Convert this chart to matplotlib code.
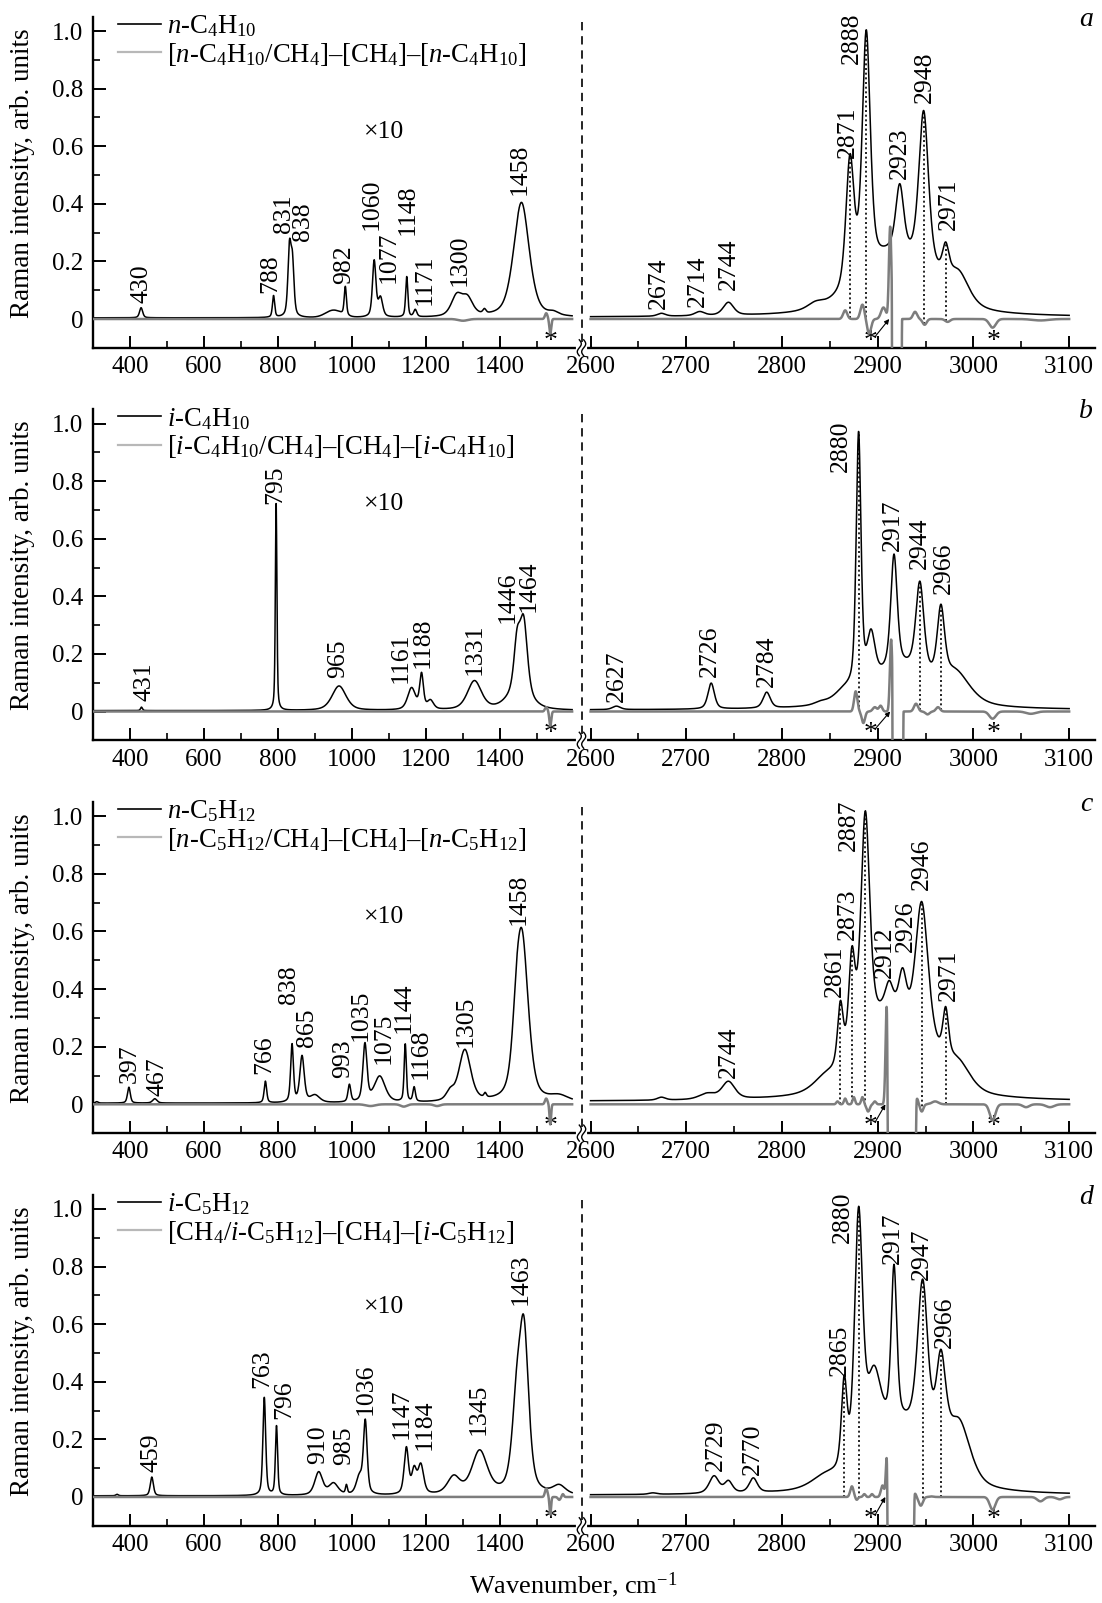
import numpy as np
import matplotlib
matplotlib.use('Agg')
import matplotlib.pyplot as plt
from matplotlib.lines import Line2D

plt.rcParams['font.family'] = ['Liberation Serif', 'DejaVu Serif']
plt.rcParams['mathtext.fontset'] = 'custom'
plt.rcParams['mathtext.rm'] = 'Liberation Serif'
plt.rcParams['mathtext.it'] = 'Liberation Serif:italic'
plt.rcParams['mathtext.bf'] = 'Liberation Serif:bold'

# ---------------- data (peak tables) ----------------
# (center cm-1, height, fwhm[, kind])  kind: v = pseudo-Voigt, g = gaussian, h = clipped hole
# left part values are shown x10
A_BLACK_L = [(430, 0.035, 10), (788, 0.075, 7), (831, 0.23, 10), (839, 0.18, 10), (950, 0.025, 50, 'g'),
             (982, 0.10, 7), (1060, 0.195, 11), (1077, 0.065, 14), (1148, 0.14, 7), (1171, 0.025, 10),
             (1283, 0.07, 35), (1312, 0.06, 35), (1358, 0.015, 10), (1458, 0.40, 50), (1545, 0.01, 30)]
A_GRAY_L = [(1525, 0.02, 8, 'g'), (1536, -0.05, 6, 'g'), (1300, -0.006, 30, 'g')]
A_BLACK_R = [(2674, 0.01, 10), (2714, 0.014, 12), (2744, 0.045, 13), (2835, 0.02, 20), (2915, 0.20, 80),
             (2871, 0.44, 10), (2888, 0.83, 10), (2923, 0.23, 10), (2948, 0.54, 12), (2960, 0.05, 50),
             (2971, 0.10, 8), (2985, 0.09, 25)]
A_GRAY_R = [(2866, 0.03, 5, 'g'), (2884, 0.05, 5, 'g'), (2891, -0.05, 5, 'g'), (2906, 0.04, 6, 'g'),
            (2913, 0.32, 3, 'g'), (2920, -1.0, 5, 'h'), (2939, 0.025, 5, 'g'), (2949, -0.02, 5, 'g'),
            (2973, -0.01, 6, 'g'), (3020, -0.03, 8, 'g'), (3070, -0.005, 20, 'g')]

B_BLACK_L = [(431, 0.012, 6), (795, 0.72, 5), (965, 0.085, 45), (1161, 0.075, 25), (1188, 0.12, 12),
             (1212, 0.03, 20), (1331, 0.10, 45), (1446, 0.16, 20), (1464, 0.25, 24), (1450, 0.06, 70)]
B_GRAY_L = [(1525, 0.015, 8, 'g'), (1536, -0.05, 6, 'g')]
B_BLACK_R = [(2627, 0.012, 10), (2726, 0.09, 8), (2784, 0.055, 9), (2840, 0.008, 15), (2865, 0.03, 25),
             (2925, 0.14, 80), (2880, 0.88, 6), (2893, 0.16, 10), (2917, 0.39, 8), (2944, 0.31, 10),
             (2966, 0.24, 9), (2982, 0.09, 35)]
B_GRAY_R = [(2877, 0.07, 4, 'g'), (2885, -0.04, 4, 'g'), (2897, 0.015, 5, 'g'), (2903, 0.02, 4, 'g'),
            (2914, 0.25, 3, 'g'), (2921, -1.0, 5.5, 'h'), (2940, 0.027, 5, 'g'), (2952, -0.01, 5, 'g'),
            (2963, 0.015, 5, 'g'), (3020, -0.025, 8, 'g'), (3060, -0.008, 12, 'g')]

C_BLACK_L = [(310, 0.005, 8), (397, 0.055, 9), (467, 0.015, 14), (766, 0.075, 8), (838, 0.20, 9),
             (865, 0.16, 14), (900, 0.025, 30), (993, 0.06, 9), (1035, 0.20, 13), (1075, 0.09, 35),
             (1144, 0.20, 7), (1168, 0.05, 8), (1265, 0.03, 25), (1305, 0.18, 38), (1360, 0.015, 8),
             (1445, 0.13, 25), (1460, 0.55, 40), (1560, 0.02, 60)]
C_GRAY_L = [(1525, 0.02, 8, 'g'), (1536, -0.07, 5, 'g'), (1050, -0.006, 30, 'g'), (1140, -0.008, 20, 'g'),
            (1230, -0.006, 20, 'g')]
C_BLACK_R = [(2674, 0.01, 10), (2722, 0.02, 20), (2744, 0.06, 16), (2845, 0.04, 30), (2910, 0.28, 70),
             (2861, 0.21, 7), (2873, 0.33, 8), (2887, 0.78, 11), (2912, 0.09, 10), (2926, 0.16, 10),
             (2946, 0.50, 16), (2960, 0.06, 40), (2971, 0.16, 7), (2985, 0.08, 30)]
C_GRAY_R = [(2858, 0.01, 3, 'g'), (2866, 0.02, 3, 'g'), (2875, 0.025, 3, 'g'), (2884, 0.025, 3, 'g'),
            (2890, -0.025, 4, 'g'), (2897, 0.01, 3, 'g'), (2909.5, 0.35, 3, 'g'), (2925, -1.0, 14.5, 'h'),
            (2941, 0.02, 3, 'g'), (2946, -0.025, 4, 'g'), (2960, 0.01, 8, 'g'), (3020, -0.055, 7, 'g'),
            (3055, -0.01, 8, 'g'), (3080, -0.01, 10, 'g')]

D_BLACK_L = [(365, 0.005, 8), (459, 0.065, 10), (763, 0.34, 9), (796, 0.24, 7), (910, 0.08, 25),
             (950, 0.04, 30), (985, 0.03, 6), (1020, 0.06, 20), (1036, 0.25, 12), (1147, 0.16, 14),
             (1168, 0.08, 15), (1186, 0.10, 18), (1275, 0.06, 40), (1345, 0.15, 50), (1445, 0.27, 30),
             (1465, 0.53, 30), (1560, 0.03, 40)]
D_GRAY_L = [(1525, 0.03, 8, 'g'), (1536, -0.06, 5, 'g'), (1560, -0.01, 8, 'g'), (1570, 0.01, 6, 'g')]
D_BLACK_R = [(2665, 0.005, 10), (2729, 0.06, 12), (2744, 0.04, 10), (2770, 0.05, 10), (2845, 0.04, 35),
             (2925, 0.22, 70), (2865, 0.30, 7), (2880, 0.86, 10), (2896, 0.26, 18), (2917, 0.54, 7),
             (2947, 0.55, 13), (2966, 0.32, 12), (2985, 0.20, 28)]
D_GRAY_R = [(2873, 0.037, 4, 'g'), (2878, -0.01, 3, 'g'), (2886, 0.01, 3, 'g'), (2894, 0.01, 3, 'g'),
            (2905, 0.04, 4, 'g'), (2909.5, 0.14, 2.5, 'g'), (2924, -1.0, 13.5, 'h'), (2939, 0.012, 3, 'g'),
            (2945, -0.03, 5, 'g'), (2956, 0.002, 5, 'g'), (3020, -0.044, 7, 'g'), (3070, -0.015, 8, 'g'),
            (3090, -0.008, 8, 'g')]

BASE_L = [0.004, 0.003, 0.004, 0.004]
BASE_R = [0.006, 0.005, 0.010, 0.006]

# peak labels: (text, x, y of label bottom)
A_LABELS = [('430', 430, 0.055), ('788', 779, 0.09), ('831', 816, 0.30), ('838', 868, 0.27),
            ('982', 980, 0.12), ('1060', 1053, 0.31), ('1077', 1100, 0.125), ('1148', 1150, 0.29),
            ('1171', 1196, 0.05), ('1300', 1292, 0.113), ('1458', 1452, 0.43),
            ('2674', 2671, 0.035), ('2714', 2712, 0.04), ('2744', 2744, 0.10), ('2871', 2869, 0.56),
            ('2888', 2873, 0.886), ('2923', 2923, 0.485), ('2948', 2949, 0.75), ('2971', 2974, 0.31)]
B_LABELS = [('431', 438, 0.035), ('795', 792, 0.72), ('965', 962, 0.115), ('1161', 1132, 0.098),
            ('1188', 1192, 0.15), ('1331', 1332, 0.127), ('1446', 1420, 0.306), ('1464', 1477, 0.347),
            ('2627', 2628, 0.032), ('2726', 2725, 0.12), ('2784', 2784, 0.084), ('2880', 2862, 0.83),
            ('2917', 2916, 0.558), ('2944', 2944, 0.495), ('2966', 2969, 0.408)]
C_LABELS = [('397', 398, 0.075), ('467', 473, 0.029), ('766', 763, 0.104), ('838', 830, 0.347),
            ('865', 879, 0.20), ('993', 975, 0.092), ('1035', 1023, 0.22), ('1075', 1086, 0.139),
            ('1144', 1139, 0.249), ('1168', 1187, 0.087), ('1305', 1308, 0.20), ('1458', 1450, 0.624),
            ('2744', 2744, 0.09), ('2861', 2855, 0.374), ('2873', 2869, 0.571), ('2887', 2870, 0.878),
            ('2912', 2907, 0.438), ('2926', 2929, 0.53), ('2946', 2946, 0.745), ('2971', 2974, 0.357)]
D_LABELS = [('459', 459, 0.087), ('763', 758, 0.38), ('796', 816, 0.27), ('910', 908, 0.116),
            ('985', 980, 0.11), ('1036', 1038, 0.283), ('1147', 1135, 0.20), ('1184', 1197, 0.162),
            ('1345', 1342, 0.214), ('1463', 1457, 0.665),
            ('2729', 2731, 0.089), ('2770', 2770, 0.078), ('2865', 2860, 0.419), ('2880', 2864, 0.882),
            ('2917', 2916, 0.81), ('2947', 2946, 0.755), ('2966', 2970, 0.517)]

# dotted guide lines (cm-1)
A_DOTS = [2871, 2888, 2948, 2971]
B_DOTS = [2880, 2944, 2966]
C_DOTS = [2861, 2873, 2887, 2946, 2971]
D_DOTS = [2865, 2880, 2947, 2966]

# asterisk positions (cm-1) and arrow target
STAR_L = 1536
STAR_R = [2893, 3021]
ARROW_HEAD = [2912, 2913, 2908, 2908]

LEGEND_MAIN = [r'$\mathit{n}$-C$_4$H$_{10}$', r'$\mathit{i}$-C$_4$H$_{10}$',
               r'$\mathit{n}$-C$_5$H$_{12}$', r'$\mathit{i}$-C$_5$H$_{12}$']
LEGEND_DIFF = [r'[$\mathit{n}$-C$_4$H$_{10}$/CH$_4$]–[CH$_4$]–[$\mathit{n}$-C$_4$H$_{10}$]',
               r'[$\mathit{i}$-C$_4$H$_{10}$/CH$_4$]–[CH$_4$]–[$\mathit{i}$-C$_4$H$_{10}$]',
               r'[$\mathit{n}$-C$_5$H$_{12}$/CH$_4$]–[CH$_4$]–[$\mathit{n}$-C$_5$H$_{12}$]',
               r'[CH$_4$/$\mathit{i}$-C$_5$H$_{12}$]–[CH$_4$]–[$\mathit{i}$-C$_5$H$_{12}$]']
PANEL_LETTERS = ['a', 'b', 'c', 'd']
X10_Y = [0.65, 0.72, 0.65, 0.66]

LEFT_TICKS = [400, 600, 800, 1000, 1200, 1400]
LEFT_MINOR = [500, 700, 900, 1100, 1300, 1500]
RIGHT_TICKS = [2600, 2700, 2800, 2900, 3000, 3100]
RIGHT_MINOR = [2650, 2750, 2850, 2950, 3050]
Y_TICKS = [0, 0.2, 0.4, 0.6, 0.8, 1.0]
Y_TICKLABELS = ['0', '0.2', '0.4', '0.6', '0.8', '1.0']
Y_MINOR = [0.1, 0.3, 0.5, 0.7, 0.9]

PANELS = [
    (A_BLACK_L, A_GRAY_L, A_BLACK_R, A_GRAY_R, A_LABELS, A_DOTS),
    (B_BLACK_L, B_GRAY_L, B_BLACK_R, B_GRAY_R, B_LABELS, B_DOTS),
    (C_BLACK_L, C_GRAY_L, C_BLACK_R, C_GRAY_R, C_LABELS, C_DOTS),
    (D_BLACK_L, D_GRAY_L, D_BLACK_R, D_GRAY_R, D_LABELS, D_DOTS),
]


def spectrum(x, peaks, base):
    y = np.full_like(x, base, dtype=float)
    for p in peaks:
        c, h, w = p[0], p[1], p[2]
        kind = p[3] if len(p) > 3 else 'v'
        if kind == 'h':
            y += h * np.exp(-np.abs((x - c) / w) ** 20)
            continue
        G = np.exp(-4 * np.log(2) * ((x - c) / w) ** 2)
        if kind == 'g':
            y += h * G
        else:
            L = 1.0 / (1.0 + ((x - c) / (w / 2.0)) ** 2)
            y += h * (0.5 * L + 0.5 * G)
    return y


# ---------------- layout ----------------
W, H = 1102, 1603
fig = plt.figure(figsize=(W / 100, H / 100), dpi=100)

def fx(px):
    return px / W

def fy(py):
    return 1 - py / H

PXU = 288.0
ZERO_PX = [319, 711.5, 1104.3, 1497]
YLIM = (-0.1, 1.05)
XL = (300, 1619)
XR = (2590, 3127)
LX0, SPLIT, RX1 = 93, 581, 1095

xl = np.linspace(300, 1595, 3000)
xr = np.linspace(2600, 3100, 3000)

BLACK = 'black'
GRAY = '#7d7d7d'
FS_TICK = 18
FS_LAB = 18.5

for i, (bl, gl, br, gr, labels, dots) in enumerate(PANELS):
    z = ZERO_PX[i]
    bottom_px = z - YLIM[0] * PXU
    top_px = z - YLIM[1] * PXU
    hfrac = (bottom_px - top_px) / H
    axl = fig.add_axes([fx(LX0), fy(bottom_px), fx(SPLIT - LX0), hfrac])
    axr = fig.add_axes([fx(SPLIT), fy(bottom_px), fx(RX1 - SPLIT), hfrac])

    for ax in (axl, axr):
        ax.set_ylim(*YLIM)
        ax.patch.set_alpha(0)
        ax.spines['top'].set_visible(False)
        ax.spines['right'].set_visible(False)
        ax.spines['bottom'].set_linewidth(1.7)
        ax.spines['left'].set_linewidth(1.7)
        ax.tick_params(which='both', direction='in', labelsize=FS_TICK, pad=6)
        ax.tick_params(which='major', length=9, width=1.4)
        ax.tick_params(which='minor', length=5, width=1.2)
    axl.set_xlim(*XL)
    axr.set_xlim(*XR)
    axr.spines['left'].set_visible(False)
    axr.set_yticks([])

    axl.set_xticks(LEFT_TICKS)
    axl.set_xticks(LEFT_MINOR, minor=True)
    axr.set_xticks(RIGHT_TICKS)
    axr.set_xticks(RIGHT_MINOR, minor=True)
    axl.set_yticks(Y_TICKS)
    axl.set_yticklabels(Y_TICKLABELS)
    axl.set_yticks(Y_MINOR, minor=True)
    axl.tick_params(axis='y', pad=7)

    yb_l = spectrum(xl, bl, BASE_L[i])
    yg_l = spectrum(xl, gl, 0.0)
    yb_r = spectrum(xr, br, BASE_R[i])
    yg_r = spectrum(xr, gr, 0.0)

    axl.plot(xl, yb_l, color=BLACK, lw=1.1, zorder=3)
    axl.plot(xl, yg_l, color=GRAY, lw=1.8, zorder=4)
    axr.plot(xr, yb_r, color=BLACK, lw=1.1, zorder=3)
    axr.plot(xr, yg_r, color=GRAY, lw=1.8, zorder=4)

    for d in dots:
        axr.plot([d, d], [np.interp(d, xr, yg_r), np.interp(d, xr, yb_r)], color='black',
                 lw=1.2, ls=(0, (1.2, 1.6)), zorder=2)

    for txt, x, y in labels:
        ax = axl if x < 2000 else axr
        ax.text(x, y, txt, rotation=90, ha='center', va='bottom', fontsize=FS_LAB, zorder=5)

    axl.text(1087, X10_Y[i], '×10', ha='center', va='center', fontsize=FS_LAB)
    axr.text(3118, 1.04, PANEL_LETTERS[i], ha='center', va='center', fontsize=20, style='italic')

    # asterisks
    axl.text(STAR_L, -0.10, '*', ha='center', va='baseline', fontsize=20)
    for s in STAR_R:
        axr.text(s, -0.10, '*', ha='center', va='baseline', fontsize=20)
    axr.annotate('', xy=(ARROW_HEAD[i], 0.0), xytext=(2898, -0.058),
                 arrowprops=dict(arrowstyle='-|>', lw=0.8, color='black', mutation_scale=7,
                                 shrinkA=0, shrinkB=0))

    # legend
    handles = [Line2D([], [], color='black', lw=1.2), Line2D([], [], color='#b8b8b8', lw=1.6)]
    axl.legend(handles, [LEGEND_MAIN[i], LEGEND_DIFF[i]], loc='upper left',
               bbox_to_anchor=(0.051, 1.01), frameon=False, fontsize=19.2,
               handlelength=1.6, handletextpad=0.25, labelspacing=0.05,
               borderpad=0, borderaxespad=0)

    # y label
    fig.text(fx(22.5), fy(z - 146), 'Raman intensity, arb. units', rotation=90,
             ha='center', va='center', fontsize=19.5)

    # dashed separator and axis-break marks
    fig.add_artist(Line2D([fx(SPLIT + 0.5)] * 2, [fy(top_px + 5), fy(bottom_px)],
                          color='black', lw=1.2, ls=(0, (5, 3.5))))
    t = np.linspace(-np.pi, np.pi, 40)
    fig.add_artist(Line2D([fx(SPLIT - 3), fx(SPLIT + 4)], [fy(bottom_px)] * 2,
                          color='white', lw=3))
    for dx in (-2.2, 2.2):
        fig.add_artist(Line2D(fx(SPLIT + 0.5 + dx + 2.0 * np.sin(t)),
                              fy(bottom_px - 8 * t / np.pi),
                              color='black', lw=1.0))

fig.text(fx(573), fy(1585), 'Wavenumber, cm$^{-1}$', ha='center', va='center', fontsize=19)

fig.savefig('out.png', dpi=100)
